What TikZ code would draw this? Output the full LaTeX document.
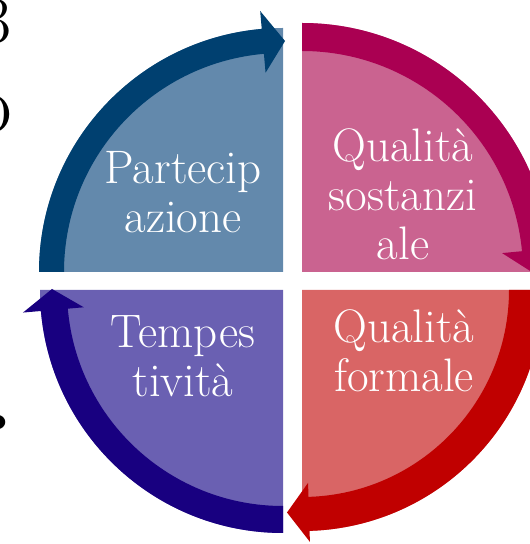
\documentclass[tikz,border=0pt]{standalone}
\usepackage{tikz}

\definecolor{partfill}{RGB}{99,137,172}
\definecolor{partband}{RGB}{0,64,112}
\definecolor{sostfill}{RGB}{202,99,144}
\definecolor{sostband}{RGB}{170,0,82}
\definecolor{formfill}{RGB}{217,101,101}
\definecolor{formband}{RGB}{192,0,0}
\definecolor{tempfill}{RGB}{106,96,178}
\definecolor{tempband}{RGB}{24,0,128}

\tikzset{
  quadlabel/.style={text=white, align=center, anchor=base, inner sep=0pt,
    font=\fontsize{47}{49}\selectfont},
  cuttext/.style={text=black, inner sep=0pt, anchor=base east}
}

\begin{document}
\begin{tikzpicture}[x=1pt,y=1pt]
        \useasboundingbox (0,0) rectangle (530,544);
        \coordinate (cTL) at (283,272);
        \coordinate (cTR) at (302,272);
        \coordinate (cBR) at (302,254);
        \coordinate (cBL) at (283,254);

        % left over text from the slide, cut by the border
        \node (frag3) [cuttext, font=\fontsize{65}{65}\selectfont] at (12,501) {3};
        \node (fragO) [cuttext, font=\fontsize{84}{84}\selectfont] at (12,411) {o};
        \node (fragDot) [cuttext, font=\fontsize{170}{170}\selectfont] at (20,114) {.};

        % top left
        \begin{scope}[shift={(cTL)}]
                \fill[partfill] (0,0) -- (180:244) arc[start angle=180, end angle=90, radius=244] -- cycle;
                \fill[partband] (180:244) arc[start angle=180, end angle=95, radius=244]
                        -- (95:262) -- (89.5:231) -- (95:200) -- (95:219)
                        arc[start angle=95, end angle=180, radius=219] -- cycle;
        \end{scope}
        % top right
        \begin{scope}[shift={(cTR)}]
                \fill[sostfill] (0,0) -- (90:249) arc[start angle=90, end angle=0, radius=249] -- cycle;
                \fill[sostband] (90:249) arc[start angle=90, end angle=5.4, radius=249]
                        -- (5.4:266) -- (-0.5:233) -- (5.4:201) -- (5.4:221)
                        arc[start angle=5.4, end angle=90, radius=221] -- cycle;
        \end{scope}
        % bottom right
        \begin{scope}[shift={(cBR)}]
                \fill[formfill] (0,0) -- (0:241) arc[start angle=0, end angle=-90, radius=241] -- cycle;
                \fill[formband] (0:241) arc[start angle=0, end angle=-88.2, radius=241]
                        -- (-88.2:252) -- (-93.85:223) -- (-88.2:193) -- (-88.2:207)
                        arc[start angle=-88.2, end angle=0, radius=207] -- cycle;
        \end{scope}
        % bottom left
        \begin{scope}[shift={(cBL)}]
                \fill[tempfill] (0,0) -- (-90:243) arc[start angle=-90, end angle=-180, radius=243] -- cycle;
                \fill[tempband] (-90:243) arc[start angle=-90, end angle=-175.04, radius=243]
                        -- (-175.04:261) -- (-180.25:231) -- (-175.04:200) -- (-175.04:216)
                        arc[start angle=-175.04, end angle=-90, radius=216] -- cycle;
        \end{scope}

        % labels, placed at the baseline of their last line
        \node (tPart) [quadlabel] at (183,311) {Partecip\\azione};
        \node (tSost) [quadlabel] at (403,284) {Qualità\\sostanzi\\ale};
        \node (tForm) [quadlabel] at (404,152) {Qualità\\formale};
        \node (tTemp) [quadlabel] at (183,147) {Tempes\\tività};
\end{tikzpicture}
\end{document}
